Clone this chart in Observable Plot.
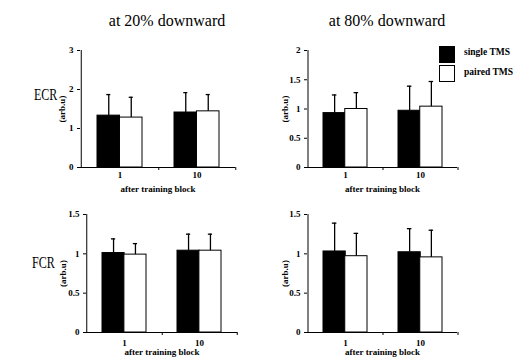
<!DOCTYPE html>
<html><head>
<meta charset="utf-8">
<script src="https://cdn.jsdelivr.net/npm/d3@7"></script>
<script src="https://cdn.jsdelivr.net/npm/@observablehq/plot@0.6"></script>
<style>
body{margin:0;background:#fff}
#root{position:relative;width:515px;height:359px;font-family:"Liberation Serif","Times New Roman",serif;overflow:hidden}
.abs{position:absolute;white-space:nowrap}
.title{font-size:16px;line-height:16px;transform:translateX(-50%)}
.row{font-size:16px;line-height:16px;transform:scaleX(0.75);transform-origin:0 50%}
.leg{font-size:9.5px;font-weight:bold;line-height:10px}
.sw{width:14px;height:15px;border:1px solid #000;box-sizing:content-box}
</style></head><body><div id="root"></div>
<script>
const blocks = ["1", "10"];
const seriesNames = ["single TMS", "paired TMS"];
const colTitles = ["at 20% downward", "at 80% downward"];
const rowTitles = ["ECR", "FCR"];
const xLabel = "after training block";
const yLabel = "(arb.u)";

// ECR at 20%
const ecr20Single = [1.33, 1.41];
const ecr20Paired = [1.28, 1.44];
const ecr20SingleSD = [0.54, 0.51];
const ecr20PairedSD = [0.52, 0.43];
// ECR at 80%
const ecr80Single = [0.93, 0.97];
const ecr80Paired = [1.00, 1.04];
const ecr80SingleSD = [0.31, 0.42];
const ecr80PairedSD = [0.28, 0.43];
// FCR at 20%
const fcr20Single = [1.01, 1.04];
const fcr20Paired = [0.99, 1.04];
const fcr20SingleSD = [0.18, 0.21];
const fcr20PairedSD = [0.14, 0.21];
// FCR at 80%
const fcr80Single = [1.03, 1.02];
const fcr80Paired = [0.97, 0.955];
const fcr80SingleSD = [0.36, 0.30];
const fcr80PairedSD = [0.29, 0.345];

const ticks3 = [0, 1, 2, 3];
const ticks2 = [0, 0.5, 1, 1.5, 2];
const ticks15 = [0, 0.5, 1, 1.5];

const root = document.getElementById("root");

function panel(cfg) {
  const {single, paired, singleSD, pairedSD, yMax, yTicks, left, top, frameW, frameH, yLabelOffset, tickPad, xLabelOffset} = cfg;
  const sRows = blocks.map((b, i) => ({block: b, mean: single[i], top: single[i] + singleSD[i]}));
  const pRows = blocks.map((b, i) => ({block: b, mean: paired[i], top: paired[i] + pairedSD[i]}));
  const pad = 0.42;
  const step = frameW / 2;
  const bw = step * (1 - pad);
  const half = bw / 2;
  const cap = 2;
  const tl = 3 * yMax / frameH;
  const mL = 50, mR = 10, mT = 8, mB = 30;
  const svg = Plot.plot({
    width: mL + frameW + mR,
    height: mT + frameH + mB,
    marginLeft: mL, marginRight: mR, marginTop: mT, marginBottom: mB,
    style: {fontFamily: "'Liberation Serif', serif", fontSize: "9px", fontWeight: "bold", background: "transparent", color: "#000", overflow: "visible"},
    x: {domain: blocks, paddingInner: pad, paddingOuter: pad / 2, axis: null},
    y: {domain: [0, yMax], axis: null},
    marks: [
      Plot.barY(sRows, {x: "block", y: "mean", fill: "black", stroke: "black", strokeWidth: 1, insetRight: half}),
      Plot.barY(pRows, {x: "block", y: "mean", fill: "white", stroke: "black", strokeWidth: 1, insetLeft: half}),
      Plot.ruleX(sRows, {x: "block", y1: "mean", y2: "top", dx: -bw / 4, stroke: "black", strokeWidth: 1.3}),
      Plot.ruleX(pRows, {x: "block", y1: "mean", y2: "top", dx: bw / 4, stroke: "black", strokeWidth: 1.3}),
      Plot.tickY(sRows, {x: "block", y: "top", insetLeft: bw / 4 - cap, insetRight: 3 * bw / 4 - cap, stroke: "black", strokeWidth: 1.3}),
      Plot.tickY(pRows, {x: "block", y: "top", insetLeft: 3 * bw / 4 - cap, insetRight: bw / 4 - cap, stroke: "black", strokeWidth: 1.3}),
      Plot.ruleY([0], {stroke: "black", strokeWidth: 1}),
      Plot.ruleX(blocks, {x: d => d, y1: 0, y2: -tl, dx: step / 2, stroke: "black"}),
      Plot.ruleX(blocks.slice(0, 1), {x: d => d, y1: -tl * 0.3, y2: yMax, dx: -step / 2, stroke: "black"}),
      Plot.axisX({tickSize: 0, tickPadding: tickPad, label: xLabel, labelAnchor: "center", labelOffset: xLabelOffset, labelArrow: false, fontWeight: "bold", fill: "#000"}),
      Plot.axisY({ticks: yTicks, tickSize: 3, tickPadding: 4, tickFormat: d => String(d), label: yLabel, labelAnchor: "center", labelArrow: false, labelOffset: yLabelOffset, fontWeight: "bold", fill: "#000"})
    ]
  });
  svg.style.position = "absolute";
  svg.style.left = left + "px";
  svg.style.top = top + "px";
  root.appendChild(svg);
}

function text(cls, str, x, y) {
  const d = document.createElement("div");
  d.className = "abs " + cls;
  d.textContent = str;
  d.style.left = x + "px";
  d.style.top = y + "px";
  root.appendChild(d);
  return d;
}

text("title", colTitles[0], 167, 13);
text("title", colTitles[1], 387, 13);
text("row", rowTitles[0], 34, 87);
text("row", rowTitles[1], 32, 255);

panel({single: ecr20Single, paired: ecr20Paired, singleSD: ecr20SingleSD, pairedSD: ecr20PairedSD, yMax: 3, yTicks: ticks3, left: 30, top: 42, frameW: 155, frameH: 117, yLabelOffset: 22, tickPad: 4, xLabelOffset: 24});
panel({single: ecr80Single, paired: ecr80Paired, singleSD: ecr80SingleSD, pairedSD: ecr80PairedSD, yMax: 2, yTicks: ticks2, left: 257, top: 42, frameW: 150, frameH: 117, yLabelOffset: 26, tickPad: 4, xLabelOffset: 24});
panel({single: fcr20Single, paired: fcr20Paired, singleSD: fcr20SingleSD, pairedSD: fcr20PairedSD, yMax: 1.5, yTicks: ticks15, left: 36, top: 206, frameW: 151, frameH: 118, yLabelOffset: 27, tickPad: 7, xLabelOffset: 22});
panel({single: fcr80Single, paired: fcr80Paired, singleSD: fcr80SingleSD, pairedSD: fcr80PairedSD, yMax: 1.5, yTicks: ticks15, left: 257, top: 206, frameW: 150, frameH: 118, yLabelOffset: 26, tickPad: 7, xLabelOffset: 22});

// legend
const sw1 = text("sw", "", 439, 46); sw1.style.background = "#000";
const sw2 = text("sw", "", 439, 65); sw2.style.background = "#fff";
text("leg", seriesNames[0], 464, 47);
text("leg", seriesNames[1], 464, 67);
</script>
</body></html>
